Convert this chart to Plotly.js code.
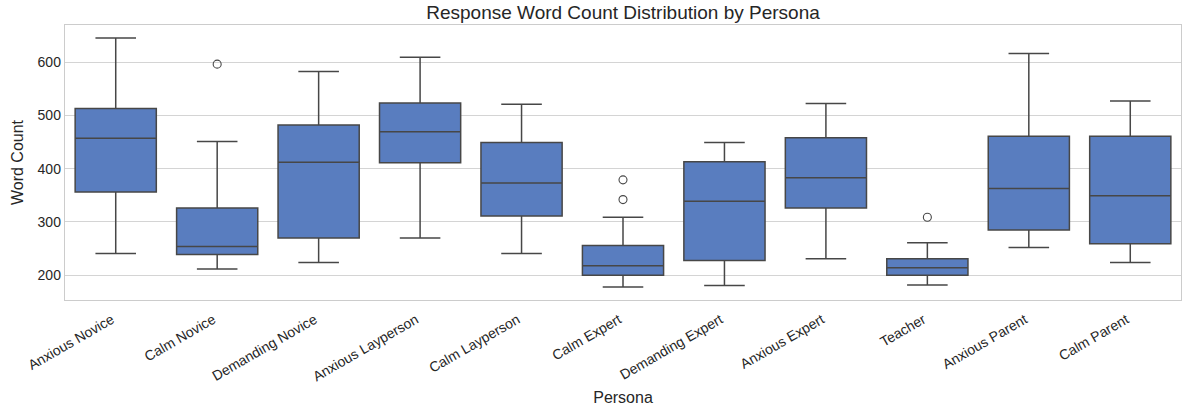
<!DOCTYPE html>
<html>
<head>
<meta charset="utf-8">
<script src="https://cdn.plot.ly/plotly-3.0.1.min.js"></script>
<style>html,body{margin:0;padding:0;background:#fff;}#chart{width:1182px;height:408px;}</style>
</head>
<body>
<div id="chart"></div>
<script>
const personas = ["Anxious Novice","Calm Novice","Demanding Novice","Anxious Layperson","Calm Layperson","Calm Expert","Demanding Expert","Anxious Expert","Teacher","Anxious Parent","Calm Parent"];
const lowerWhisker = [241, 212, 224, 270, 241, 178, 181, 231, 182, 252, 224];
const q1Values     = [356, 239, 270, 411, 311, 200, 228, 326, 200, 285, 259];
const medianValues = [457, 254, 412, 469, 373, 218, 339, 383, 214, 363, 349];
const q3Values     = [513, 326, 482, 523, 449, 256, 413, 458, 231, 461, 461];
const upperWhisker = [645, 451, 582, 609, 521, 309, 449, 522, 261, 616, 527];
const outlierPersona = ["Calm Novice","Calm Expert","Calm Expert","Teacher"];
const outlierValues  = [596, 379, 342, 309];
const yTicks = [200, 300, 400, 500, 600];

const lineCol = "#474747";
const font = "Liberation Sans, Arial, sans-serif";

const traces = [
  {
    type: "box",
    x: personas,
    q1: q1Values,
    median: medianValues,
    q3: q3Values,
    lowerfence: lowerWhisker,
    upperfence: upperWhisker,
    width: 0.8,
    whiskerwidth: 0.5,
    boxpoints: false,
    fillcolor: "rgb(89,125,191)",
    line: {color: lineCol, width: 1.5},
    showlegend: false,
    hoverinfo: "skip"
  },
  {
    type: "scatter",
    mode: "markers",
    x: outlierPersona,
    y: outlierValues,
    marker: {symbol: "circle-open", size: 8, color: lineCol, line: {width: 1.1, color: lineCol}},
    showlegend: false,
    hoverinfo: "skip"
  }
];

const layout = {
  width: 1182, height: 408,
  margin: {l: 65, r: 1, t: 25, b: 108},
  paper_bgcolor: "#ffffff",
  plot_bgcolor: "#ffffff",
  font: {family: font, color: "#262626"},
  title: {text: "Response Word Count Distribution by Persona", font: {size: 19, color: "#262626", family: font}, x: 0.5, xref: "paper", xanchor: "center", y: 1, yref: "paper", yanchor: "bottom", pad: {b: 6}},
  xaxis: {
    type: "category",
    categoryorder: "array",
    categoryarray: personas,
    range: [-0.5, 10.5],
    tickangle: -30,
    tickfont: {size: 14, color: "#262626"},
    ticklabelshift: -4,
    ticklabelstandoff: 5,
    showgrid: false,
    showline: true, mirror: true, linecolor: "#cccccc", linewidth: 1.25,
    ticks: "",
    title: {text: "Persona", font: {size: 16, color: "#262626"}, standoff: 8},
    zeroline: false
  },
  yaxis: {
    range: [153.7, 669.4],
    tickvals: yTicks,
    ticktext: yTicks.map(String),
    tickfont: {size: 14, color: "#262626"},
    showgrid: true, gridcolor: "#d4d4d4", gridwidth: 1,
    showline: true, mirror: true, linecolor: "#cccccc", linewidth: 1.25,
    ticks: "",
    zeroline: false,
    title: {text: "Word Count", font: {size: 16, color: "#262626"}, standoff: 10}
  }
};

Plotly.newPlot("chart", traces, layout, {displayModeBar: false, staticPlot: true});
</script>
</body>
</html>
